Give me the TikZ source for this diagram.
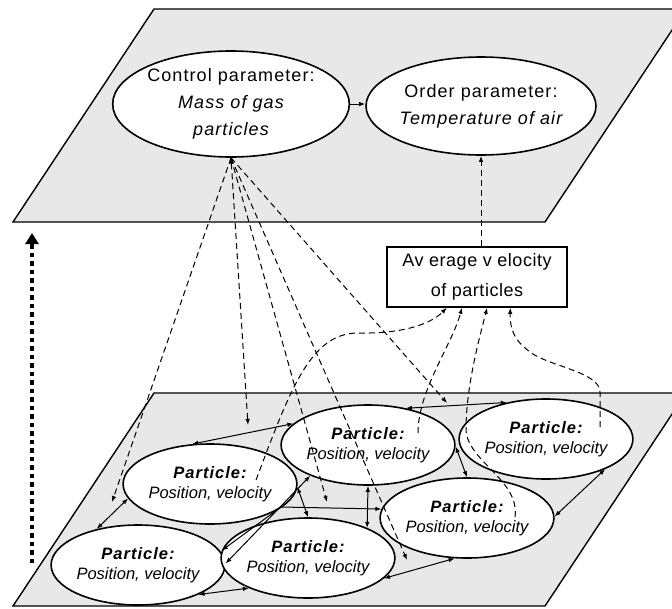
\documentclass[tikz,border=0pt]{standalone}
\usepackage{fontspec}
\setmainfont{Liberation Sans}
\usetikzlibrary{arrows.meta,shapes.geometric,calc}
\definecolor{planegray}{RGB}{232,232,232}

\begin{document}
\begin{tikzpicture}[x=1pt,y=-1pt,
  plane/.style={draw=black, line width=1.4pt, fill=planegray, line join=miter},
  topnode/.style={ellipse, draw, line width=1.6pt, fill=white, inner sep=0pt,
    align=center, font=\fontsize{18}{27}\selectfont\addfontfeatures{LetterSpace=6}},
  particle/.style={ellipse, draw, line width=1.6pt, fill=white,
    minimum width=160pt, minimum height=80pt, inner sep=0pt, align=center,
    font=\fontsize{16.5}{20}\selectfont},
  avgbox/.style={draw, line width=1.6pt, fill=white, minimum width=180pt,
    minimum height=60pt, inner sep=0pt, align=center,
    font=\fontsize{18}{30}\selectfont\addfontfeatures{LetterSpace=3}},
  tip/.tip={Latex[length=6pt,width=4.5pt]},
  link/.style={line width=1pt, tip-tip},
  influence/.style={line width=1pt, dash pattern=on 6pt off 4pt, -tip},
  emergence/.style={line width=4.5pt, dash pattern=on 4.5pt off 4pt,
    -{Triangle[length=11pt,width=13pt]}}
]
\useasboundingbox (0,0) rectangle (672,608);

% the two levels
\begin{scope}
  \clip (0,0) rectangle (672,608);
  \draw[plane] (154,9) -- (686,9) -- (545,222) -- (13,222) -- cycle;
  \draw[plane] (154,393) -- (686,393) -- (545,606) -- (13,606) -- cycle;
\end{scope}

% upward arrow from the micro level to the macro level
\coordinate (dotbot) at (32,563);
\coordinate (dottop) at (32,233);
\draw[emergence] (dotbot) -- (dottop);

% macro level
\node[topnode, minimum width=198pt, minimum height=106pt] (C) at (231,104)
  {Control parameter:\\ {\itshape Mass of gas}\\ {\itshape particles}};
\node[topnode, minimum width=198pt, minimum height=98pt] (O) at (481,106)
  {Order parameter:\\ {\itshape Temperature of air}};
\node[avgbox] (B) at (477,277) {Av erage v elocity\\ of particles};

% micro level
\newcommand{\ptext}{{\bfseries\itshape\addfontfeatures{LetterSpace=6}Particle:}\\ {\itshape Position, velocity}}
\node[particle] (P1) at (368,445) {\ptext};
\node[particle] (P2) at (546,439) {\ptext};
\node[particle] (P3) at (210,484) {\ptext};
\node[particle] (P4) at (467,518) {\ptext};
\node[particle] (P5) at (138,565) {\ptext};
\node[particle] (P6) at (308,558) {\ptext};

% interactions between particles
\draw[link] (P1.44)  -- (P2.137);
\draw[link] (P3.114) -- (P1.164);
\draw[link] (P3.190) -- (P5.139);
\draw[link] (P5.1)   -- (P1.208);
\coordinate (bend) at (281,507);
\draw[link] (P6.175) -- (bend) -- (P4.174);
\draw[link] (P1.270) -- (P6.27);
\draw[link] (P1.359) -- (P4.90);
\draw[link] (P2.333) -- (P4.1);
\draw[link] (P4.253) -- (P6.345);
\draw[link] (P5.334) -- (P6.207);
\draw[link] (P3.358) -- (P6.90);

% macro links
\draw[line width=1pt, -tip] (C.east) -- (C.east -| O.west);
\draw[influence] (B.north -| O.south) -- (O.south);

% control parameter acting on the particles
\coordinate (cA) at (112,502);
\coordinate (cB) at (248,425);
\coordinate (cC) at (327,502);
\coordinate (cD) at (407,560);
\coordinate (cE) at (447,403);
\draw[influence] (C.south) -- (cA);
\draw[influence, tip-tip] (C.south) -- (cB);
\draw[influence] (C.south) -- (cC);
\draw[influence] (C.south) -- (cD);
\draw[influence] (C.south) -- (cE);

% particle velocities feeding the average
\coordinate (in3) at (256,480);
\coordinate (in1) at (418,433);
\coordinate (in4) at (515,517);
\coordinate (in2) at (600,427);
\coordinate (b1) at ($(B.south west)!0.333!(B.south east)$);
\coordinate (b2) at ($(B.south west)!0.417!(B.south east)$);
\coordinate (b3) at ($(B.south west)!0.556!(B.south east)$);
\coordinate (b4) at ($(B.south west)!0.683!(B.south east)$);
\draw[influence] (in3) .. controls (290,390) and (310,334) .. (357,333)
  .. controls (400,334) and (430,325) .. (b1);
\draw[influence] (in1) .. controls (418,390) and (452,345) .. (b2);
\draw[influence] (in4) .. controls (520,480) and (468,462) .. (466,430)
  .. controls (466,392) and (476,350) .. (b3);
\draw[influence] (in2) -- (600,392) .. controls (600,372) and (548,366) .. (530,352)
  .. controls (514,340) and (510,330) .. (b4);
\end{tikzpicture}
\end{document}
